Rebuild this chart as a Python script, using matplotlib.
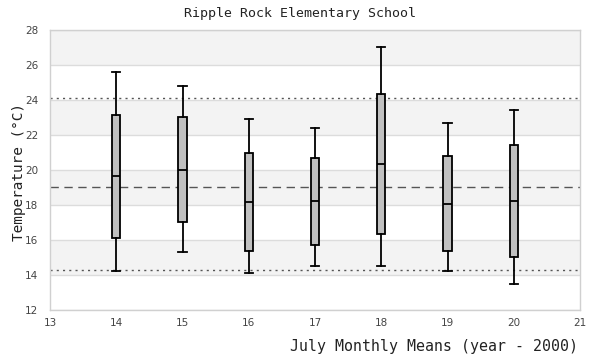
import matplotlib
matplotlib.use("Agg")
import matplotlib.pyplot as plt

years = [14, 15, 16, 17, 18, 19, 20]
whisker_low = [14.23, 15.30, 14.11, 14.50, 14.50, 14.23, 13.47]
q1 = [16.10, 17.01, 15.35, 15.70, 16.34, 15.37, 15.01]
median = [19.64, 20.00, 18.15, 18.21, 20.33, 18.04, 18.21]
q3 = [23.13, 23.01, 20.95, 20.67, 24.33, 20.78, 21.41]
whisker_high = [25.58, 24.78, 22.90, 22.38, 27.01, 22.67, 23.41]

mean_line = 19.03
upper_line = 24.10
lower_line = 14.29

xticks = [13, 14, 15, 16, 17, 18, 19, 20, 21]
yticks = [12, 14, 16, 18, 20, 22, 24, 26, 28]

title = "Ripple Rock Elementary School"
xlabel = "July Monthly Means (year - 2000)"
ylabel = "Temperature (°C)"

fig = plt.figure(figsize=(6, 3.6), dpi=100)
ax = fig.add_axes([50/600, 50/360, 530/600, 280/360])

# alternating bands
for i in range(len(yticks) - 1):
    lo, hi = yticks[i], yticks[i + 1]
    if i % 2 == 1:
        ax.axhspan(lo, hi, color="#f3f3f3", zorder=0, lw=0)
for y in yticks:
    ax.axhline(y, color="#dcdcdc", lw=1, zorder=0.5)

ax.axhline(upper_line, color="#555555", lw=1, ls=(0, (1.5, 3)), zorder=1)
ax.axhline(lower_line, color="#555555", lw=1, ls=(0, (1.5, 3)), zorder=1)
ax.axhline(mean_line, color="#555555", lw=1, ls=(0, (6, 4)), zorder=1)

stats = []
for i, yr in enumerate(years):
    stats.append(dict(med=median[i], q1=q1[i], q3=q3[i],
                      whislo=whisker_low[i], whishi=whisker_high[i],
                      fliers=[], label=str(yr)))
ax.bxp(stats, positions=years, widths=0.125, patch_artist=True,
       manage_ticks=False, showfliers=False,
       boxprops=dict(facecolor="#c0c0c0", edgecolor="black", lw=1.3),
       medianprops=dict(color="black", lw=1.3),
       whiskerprops=dict(color="black", lw=1.3),
       capprops=dict(color="black", lw=1.3),
       capwidths=0.125, zorder=3)

ax.set_xlim(13, 21)
ax.set_ylim(12, 28)
ax.set_xticks(xticks)
ax.set_yticks(yticks)
ax.tick_params(length=0, labelsize=7.5, labelcolor="#444444")
ax.tick_params(axis="y", pad=8.5)
ax.tick_params(axis="x", pad=6)
for s in ax.spines.values():
    s.set_color("#d0d0d0")
    s.set_linewidth(1)

mono = "DejaVu Sans Mono"
fig.text(0.5, 1 - 14/360, title, family=mono, fontsize=9.5, color="#222222",
         ha="center", va="center")
fig.text(578/600, 1 - 347/360, xlabel, family=mono, fontsize=10.7,
         color="#222222", ha="right", va="center")
fig.text(19/600, 1 - 172/360, ylabel, family=mono, fontsize=10.4,
         color="#222222", ha="center", va="center", rotation=90)

fig.savefig("out.png", dpi=100)
